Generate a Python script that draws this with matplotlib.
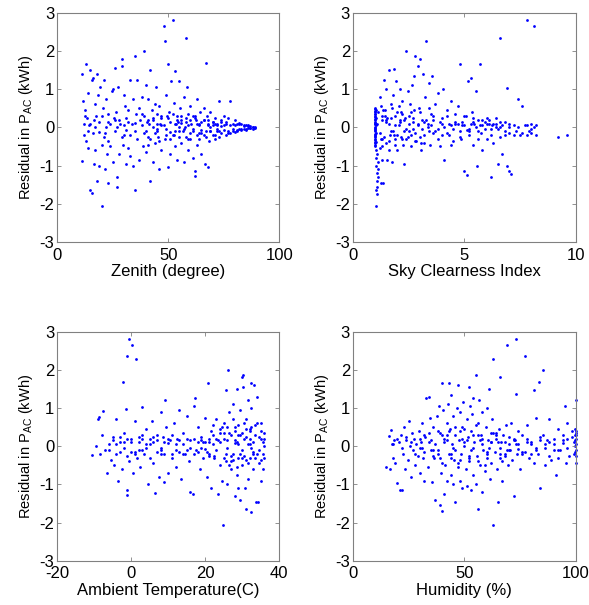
import matplotlib
matplotlib.use("Agg")
import matplotlib.pyplot as plt

# --------------------------------------------------
# Data
# --------------------------------------------------

zenith_x = [
    11, 11, 11.5, 12, 12, 12.5, 13, 13, 13.5, 14,
    14, 14.5, 15, 15, 15.5, 15.5, 16, 16, 16.5, 17,
    17, 17.5, 18, 18, 18.5, 19, 19, 19.5, 20, 20,
    20.5, 21, 21, 21.5, 22, 22, 22.5, 23, 23, 24,
    24, 24.5, 25, 25, 26, 26, 26.5, 27, 27, 27.5,
    28, 28, 29, 29, 29.5, 30, 30, 30.5, 31, 31,
    32, 32, 33, 33, 33.5, 34, 34, 35, 35, 35.5,
    36, 36, 37, 37, 38, 38, 38.5, 39, 39, 40,
    40, 40.5, 41, 41, 42, 42, 42.5, 43, 43, 44,
    44, 44.5, 45, 45, 46, 46, 46.5, 47, 47, 48,
    48.5, 48.5, 49, 49, 50, 50, 50.5, 51, 51, 51.5,
    52, 52, 52.5, 53, 53, 53.5, 54, 54, 55, 55,
    55.5, 56, 56, 57, 57, 57.5, 58, 58, 58.5, 59,
    59, 60, 60, 60.5, 61, 61, 62, 62, 62.5, 63,
    63, 64, 64, 64.5, 65, 65, 66, 66, 66.5, 67,
    67, 67.5, 68, 68, 68.5, 69, 69, 70, 70, 71,
    71, 72, 72, 73, 73, 74, 74, 75, 75, 76,
    76, 77, 77, 78, 78, 79, 79, 80, 80, 81,
    81, 82, 82, 83, 83, 84, 84, 85, 85, 86,
    86, 87, 87, 88, 88, 89, 89, 30, 45, 55,
    15, 19, 23, 27, 31, 35, 39, 43, 47, 51,
    53, 56, 59, 61, 63, 65, 68, 70, 72, 74,
    12.5, 16.5, 21.5, 25.5, 28.5, 33, 37.5, 41.5, 45.5, 49.5,
    52.5, 54.5, 56.5, 58, 60, 62, 64, 66, 69, 71,
    40, 41, 42, 43, 44, 45, 46, 47, 48, 49,
    50, 51, 52, 53, 54, 55, 56, 57, 58, 59,
    60, 61, 62, 63, 64, 65, 66, 67, 68, 69,
    70, 71, 72, 73, 74, 75, 76, 77, 78, 79,
    80, 81, 82, 83, 84, 85, 86, 87, 88, 88.5,
    14, 17, 20, 23, 26, 29, 32, 35, 38, 41,
]
zenith_res = [
    1.4, -0.88, 0.7, 0.1, -0.2, 0.45, 1.65, -0.35, 0.25, -0.55,
    0.9, 0.05, 1.5, -1.65, -1.72, 1.25, 1.3, -0.15, -0.95, 0.6,
    -0.6, 0.3, 1.4, -1.4, 0.85, -1.0, 0.15, 1.05, -2.05, -0.45,
    0.5, 1.25, -0.25, -1.1, 0.0, 0.75, -0.7, 0.35, -1.45, 0.1,
    -0.5, 0.95, 1.0, -0.9, 1.55, -0.1, 0.4, -1.55, -1.3, 1.05,
    0.2, -0.7, 1.8, 1.6, -0.45, 0.85, -0.2, 0.55, -0.95, 0.25,
    -0.55, 0.45, 1.25, -0.75, 0.1, 0.75, -1.0, 1.87, -1.65, 0.35,
    -0.3, 1.25, 0.5, -0.85, 0.05, 0.8, -0.5, 2.0, 0.3, -0.65,
    1.1, 0.15, -0.25, 0.75, 1.5, -1.4, 0.45, -0.9, 0.0, 0.6,
    -0.4, 1.05, -0.1, 0.35, -1.1, 0.55, 0.1, -0.6, 0.25, 2.65,
    2.27, -0.3, 0.85, -0.05, 1.65, -1.05, 0.4, 0.15, -0.7, 1.2,
    2.8, -0.2, 0.65, 1.47, -0.5, 0.1, -0.85, 0.3, 1.2, -0.1,
    0.5, -0.4, 0.2, -0.9, 0.8, 0.0, 2.35, -0.25, 1.05, 0.35,
    -0.6, 0.55, -0.15, 0.1, -0.8, 0.3, -1.28, -1.15, 0.2, -0.45,
    0.75, -0.3, 0.05, 0.4, -0.7, 0.15, -0.2, 0.5, -0.95, 1.68,
    -0.1, 0.3, -1.05, 0.2, -0.35, 0.0, 0.4, -0.2, 0.15, -0.3,
    0.25, -0.1, 0.1, 0.7, -0.25, 0.2, -0.15, 0.05, 0.3, -0.2,
    0.15, -0.1, 0.25, 0.7, -0.15, 0.1, -0.05, 0.2, -0.12, 0.08,
    -0.1, 0.12, -0.05, 0.1, -0.08, 0.06, -0.04, 0.07, -0.06, 0.04,
    -0.03, 0.03, -0.02, 0.02, -0.04, 0.0, -0.01, 0.05, -0.05, 0.02,
    0.08, -0.12, 0.15, 0.02, -0.08, 0.12, -0.15, 0.18, 0.06, -0.12,
    0.08, 0.12, 0.05, -0.05, 0.1, -0.08, 0.05, 0.06, -0.05, 0.03,
    0.3, 0.2, -0.15, 0.25, 0.1, -0.2, 0.2, 0.1, -0.25, 0.3,
    -0.2, 0.15, -0.1, 0.25, -0.3, 0.3, -0.15, 0.2, -0.1, 0.1,
    -0.1, 0.2, -0.3, 0.25, -0.15, 0.1, -0.35, 0.3, 0.05, -0.2,
    0.25, -0.3, 0.35, -0.1, 0.2, -0.25, 0.3, -0.05, 0.15, -0.3,
    0.2, -0.1, 0.25, -0.2, 0.1, -0.15, 0.2, -0.25, 0.1, -0.1,
    0.15, -0.2, 0.05, -0.1, 0.15, -0.08, 0.1, -0.15, 0.05, -0.1,
    0.05, -0.06, 0.08, -0.04, 0.03, -0.05, 0.05, -0.03, 0.01, -0.02,
    -0.1, 0.0, 0.3, -0.35, 0.2, -0.25, 0.15, -0.1, 0.35, -0.45,
]

clearness_x = [
    1.0, 1.0, 1.0, 1.0, 1.0, 1.0, 1.0, 1.0, 1.0, 1.0,
    1.02, 1.02, 1.02, 1.02, 1.02, 0.98, 0.98, 0.98, 0.98, 0.98,
    1.05, 1.05, 1.05, 1.05, 1.08, 1.08, 1.1, 1.1, 1.12, 1.15,
    1.05, 1.1, 1.15, 1.2, 1.25, 1.3, 1.2, 1.25, 1.3, 1.35,
    1.4, 1.45, 1.5, 1.5, 1.55, 1.6, 1.6, 1.65, 1.7, 1.75,
    1.8, 1.85, 1.9, 1.95, 2.0, 2.0, 2.05, 2.1, 2.15, 2.2,
    2.25, 2.3, 2.35, 2.4, 2.45, 2.5, 2.55, 2.6, 2.65, 2.7,
    2.75, 2.8, 2.85, 2.9, 2.95, 3.0, 3.05, 3.1, 3.15, 3.2,
    3.25, 3.3, 3.35, 3.4, 3.45, 3.5, 3.55, 3.6, 3.7, 3.8,
    3.9, 4.0, 4.05, 4.1, 4.2, 4.3, 4.4, 4.5, 4.6, 4.7,
    4.8, 4.85, 4.9, 5.0, 5.05, 5.1, 5.15, 5.2, 5.3, 5.35,
    5.4, 5.45, 5.5, 5.55, 5.6, 5.7, 5.75, 5.8, 5.9, 6.0,
    6.1, 6.2, 6.25, 6.3, 6.4, 6.5, 6.6, 6.6, 6.7, 6.8,
    6.9, 6.9, 7.0, 7.0, 7.1, 7.2, 7.3, 7.4, 7.5, 7.6,
    7.7, 7.8, 7.8, 7.9, 8.0, 8.0, 8.1, 8.1, 8.2, 8.2,
    9.2, 9.6, 1.3, 1.5, 1.7, 1.9, 2.1, 2.3, 2.5, 2.7,
    2.9, 3.1, 3.3, 3.5, 3.7, 3.9, 4.1, 4.3, 4.5, 4.7,
    4.9, 5.1, 5.3, 5.5, 5.7, 5.9, 6.1, 6.3, 6.5, 6.7,
    1.3, 1.45, 1.6, 1.75, 1.9, 2.05, 2.2, 2.4, 2.6, 2.8,
    3.0, 3.2, 3.4, 3.6, 3.8, 4.0, 4.2, 4.4, 4.6, 4.8,
    5.0, 5.2, 5.4, 5.6, 5.8, 6.0, 6.2, 6.4, 6.6, 6.8,
    7.0, 7.2, 7.4, 7.6, 7.8, 8.0, 1.0, 1.0, 1.0, 1.0,
    1.0, 1.0, 1.0, 1.0, 1.0, 1.01, 1.01, 1.01, 1.01, 1.01,
    1.1, 1.2, 1.3, 1.4, 1.5, 1.6, 1.7, 1.8, 1.9, 2.0,
    2.1, 2.2, 2.3, 2.4, 2.5, 2.6, 2.7, 2.8, 2.9, 3.0,
    3.2, 3.4, 3.6, 3.8, 4.0, 4.2, 4.4, 4.6, 4.8, 5.0,
    5.2, 5.4, 5.6, 5.8, 6.0, 6.2, 6.4, 6.6, 6.8, 7.0,
    1.15, 1.25, 1.35, 1.55, 1.85, 2.15, 2.45, 2.75, 3.05, 3.35,
]
clearness_res = [
    0.48, 0.4, 0.3, 0.2, 0.1, 0.0, -0.1, -0.2, -0.3, -0.45,
    0.45, 0.25, 0.05, -0.15, -0.38, 0.35, 0.15, -0.05, -0.25, -0.5,
    -0.6, -0.8, -1.0, -1.65, -1.2, -0.7, -1.4, -1.75, -0.9, -1.3,
    -2.05, -1.55, -1.1, -0.55, -1.45, -0.85, 0.8, 0.55, -0.3, -1.45,
    1.25, 0.3, -0.4, 1.0, -0.85, 1.5, 0.1, -0.2, 0.6, -0.9,
    0.85, 1.53, -0.3, 1.2, 0.4, -0.6, 0.05, 1.0, -0.25, 0.7,
    -0.45, -0.97, 0.25, 2.0, 0.95, -0.1, 0.6, -0.5, 1.1, 0.15,
    1.35, 1.87, -0.35, 1.6, 0.5, 1.8, -0.6, 0.2, 1.4, -0.2,
    0.8, 2.27, 0.0, 1.15, -0.45, 0.35, 1.35, -0.15, 0.6, 0.9,
    -0.5, 0.25, 1.0, -0.85, 0.45, -0.2, 0.7, -0.35, 0.1, 0.55,
    1.65, -0.3, 0.15, -1.15, 0.3, -1.25, 1.22, -0.1, 1.3, 0.4,
    -0.45, 0.1, 0.95, -1.0, 0.2, 1.67, -0.15, -0.6, 0.15, -0.3,
    0.2, -1.3, 0.05, -0.4, 0.25, -0.95, 2.35, 0.0, -0.7, 0.15,
    1.03, -1.0, -0.15, -1.15, -1.22, 0.05, -0.1, 0.75, -0.2, 0.55,
    0.05, 2.8, -0.2, -0.1, 0.1, -0.15, 2.65, 0.0, 0.05, -0.2,
    -0.25, -0.2, 0.2, 0.15, -0.1, 0.05, 0.2, -0.1, 0.1, -0.05,
    0.1, -0.05, 0.2, 0.05, -0.1, 0.15, 0.0, 0.1, -0.05, 0.08,
    0.05, -0.08, 0.1, 0.0, 0.05, -0.05, 0.08, 0.1, -0.05, 0.05,
    -0.5, 0.45, -0.6, 0.5, -0.45, 0.55, 0.35, -0.3, 0.4, -0.35,
    0.4, -0.4, 0.5, 0.3, -0.3, -0.2, 0.3, -0.45, 0.35, -0.25,
    0.3, -0.2, 0.25, -0.3, 0.2, 0.25, -0.2, 0.1, -0.25, -0.2,
    0.1, -0.2, 0.0, -0.15, 0.05, -0.05, 0.42, 0.12, -0.08, -0.38,
    0.35, 0.22, 0.08, -0.18, -0.42, 0.5, 0.28, -0.02, -0.22, -0.32,
    0.1, -0.15, 0.3, -0.25, 0.2, -0.35, 0.25, -0.1, 0.3, -0.2,
    0.15, -0.3, 0.2, -0.05, 0.3, -0.2, 0.25, -0.15, 0.05, -0.25,
    0.15, -0.1, 0.2, -0.05, 0.1, -0.15, 0.05, 0.15, -0.1, 0.05,
    -0.05, 0.15, -0.1, 0.05, 0.1, -0.05, 0.0, 0.15, -0.1, 0.0,
    0.4, -0.3, 0.45, 0.25, -0.2, 0.4, -0.25, 0.45, -0.4, 0.1,
]

temp_x = [
    -10.5, -9.5, -9.0, -8.7, -8.3, -8.0, -7.6, -7.0, -6.5, -6.0,
    -5.5, -5.0, -4.5, -4.0, -3.5, -3.0, -2.5, -2.2, -2.0, -1.5,
    -1.2, -1.2, -1.0, -0.5, -0.5, 0.0, 0.3, 0.5, 1.0, 1.3,
    1.5, 2.0, 2.5, 3.0, 3.0, 3.5, 4.0, 4.5, 5.0, 5.5,
    6.0, 6.5, 7.0, 7.5, 8.0, 8.0, 8.5, 9.0, 9.2, 9.5,
    10.0, 10.5, 11.0, 11.5, 12.0, 12.5, 13.0, 13.5, 14.0, 14.5,
    15.0, 15.5, 16.0, 16.6, 17.0, 17.3, 17.5, 18.0, 18.5, 19.0,
    19.5, 20.0, 20.5, 20.8, 21.0, 21.5, 22.0, 22.5, 23.0, 23.5,
    24.0, 24.5, 24.7, 25.0, 25.5, 25.5, 26.0, 26.2, 26.5, 27.0,
    27.5, 27.5, 28.0, 28.0, 28.5, 28.5, 29.0, 29.0, 29.5, 29.5,
    30.0, 30.0, 30.1, 30.3, 30.5, 30.8, 31.0, 31.0, 31.5, 31.5,
    32.0, 32.0, 32.3, 32.5, 32.5, 33.0, 33.2, 33.5, 33.8, 34.2,
    34.0, 34.5, 34.5, 35.0, 35.0, 35.5, 35.5, 36.0, 36.0, 35.8,
    -6, -4, -2, 0, 2, 4, 6, 8, 10, 12,
    14, 16, 18, 20, 22, 24, 26, 28, 30, 32,
    -3, -1, 1, 3, 5, 7, 9, 11, 13, 15,
    17, 19, 21, 23, 25, 27, 29, 31, 33, 35,
    24, 25, 26, 27, 28, 29, 30, 31, 32, 33,
    34, 35, 26.5, 27.5, 28.5, 29.5, 30.5, 31.5, 32.5, 33.5,
    20, 21, 22, 23, 24, 25, 26, 27, 28, 29,
    30, 31, 32, 33, 34, 35, 36, 20.5, 21.5, 22.5,
    23.5, 24.5, 25.5, 26.5, 27.5, 28.5, 29.5, 30.5, 31.5, 32.5,
    33.5, 34.5, 35.5, -5, -3, -1, 1, 3, 5, 7,
    9, 11, 13, 15, 17, 19, -4, -2, 0, 2,
    4, 6, 8, 10, 12, 14, 16, 18, 19.5, 21,
]
temp_res = [
    -0.22, 0.0, 0.7, 0.77, -0.2, 0.3, 0.93, -0.1, -0.7, 0.05,
    -0.35, 0.25, -0.5, 0.7, -0.9, 0.1, -0.6, 1.68, 0.35, 0.97,
    2.35, -1.27, -1.15, 2.8, -0.4, 0.2, 2.65, -0.7, 0.65, 2.27,
    -0.3, 0.1, -0.55, 1.02, 0.3, -0.2, 0.45, -1.0, 0.05, 0.65,
    -0.45, -1.22, 0.3, -0.8, 0.9, -0.1, 0.25, -0.95, 1.2, 0.5,
    -0.7, 0.15, -0.3, 0.6, -0.55, 0.2, 0.95, -0.85, 0.35, -0.2,
    0.8, -0.4, -1.2, -1.25, 1.05, 1.25, -0.1, 0.5, -0.6, 0.25,
    -0.3, 0.75, -0.8, 1.65, 0.1, -1.1, 0.55, -0.25, 0.7, -1.25,
    0.35, -0.9, -2.05, 0.6, 1.47, -0.4, -1.0, 2.0, 0.9, -0.6,
    1.1, -0.2, -1.3, 0.5, 1.5, -0.75, 0.3, -1.1, -1.4, 0.95,
    1.8, -0.5, 1.87, 1.55, 0.2, -1.1, -1.65, 0.7, 1.2, -0.85,
    0.4, -0.3, 1.65, -1.72, 1.0, -0.6, 1.6, 0.55, -1.45, -1.45,
    1.3, 0.25, -0.45, 0.6, -0.9, 0.1, -0.6, 0.0, -0.3, 0.35,
    -0.1, 0.05, -0.05, 0.1, -0.1, 0.05, 0.1, -0.05, 0.08, -0.1,
    0.05, -0.05, 0.1, -0.08, 0.05, 0.1, -0.05, 0.08, -0.1, 0.05,
    0.25, -0.25, -0.15, 0.2, -0.3, 0.15, -0.2, 0.3, -0.15, 0.2,
    -0.2, 0.15, -0.25, 0.2, -0.3, 0.3, -0.3, 0.25, -0.2, 0.2,
    0.45, 0.2, 0.5, -0.4, 0.15, 0.55, 0.35, -0.35, 0.45, 0.1,
    -0.2, 0.4, -0.5, 0.7, -0.55, -0.2, 0.6, -0.45, -0.05, -0.3,
    0.1, -0.2, 0.3, -0.1, -0.5, 0.35, 0.15, -0.25, 0.4, 0.05,
    -0.3, 0.45, 0.2, -0.15, 0.6, -0.35, 0.2, -0.15, 0.4, -0.3,
    0.15, 0.5, -0.2, 0.35, -0.35, 0.1, 0.3, -0.25, 0.05, 0.5,
    0.3, -0.1, -0.2, 0.15, -0.15, 0.2, -0.2, -0.1, 0.2, -0.15,
    0.1, -0.2, 0.15, -0.1, 0.2, -0.05, -0.2, 0.1, -0.15, 0.25,
    -0.05, 0.25, -0.2, 0.2, 0.05, -0.2, 0.15, -0.15, 0.1, 0.2,
]

humidity_x = [
    15, 16, 16.5, 17, 17.5, 18, 18.5, 19, 20, 20.5,
    21, 21.5, 22, 22.5, 23, 23.5, 24, 24.5, 25, 25.5,
    26, 26.5, 27, 27.5, 28, 28.5, 29, 29.5, 30, 30.5,
    31, 31.5, 32, 32.5, 33, 33.5, 34, 34.5, 35, 35.5,
    36, 36.5, 37, 37.5, 38, 38.5, 39, 39, 39.5, 40,
    40, 40.5, 41, 41, 41.5, 42, 42, 42.5, 43, 43,
    43.5, 44, 44, 44.5, 45, 45, 45.5, 46, 46, 46.5,
    47, 47, 47.5, 48, 48, 48.5, 49, 49, 49.5, 50,
    50.5, 51, 51, 51.5, 52, 52, 52.5, 53, 53, 53.5,
    54, 54, 54.5, 55, 55, 55.5, 56, 56, 56.5, 57,
    57.5, 58, 58, 58.5, 59, 59.5, 60, 60, 60.5, 61,
    61.5, 62, 62, 62.5, 63, 63, 63.5, 64, 64.5, 65,
    65.5, 66, 66, 66.5, 67, 67.5, 68, 68.5, 69, 69.5,
    70, 70.5, 71, 71.5, 72, 72.5, 73, 73, 73.5, 74,
    75, 76, 77, 77, 78, 79, 80, 81, 81, 82,
    83, 83.5, 84, 85, 85, 86, 87, 88, 89, 90,
    91, 92, 93, 94, 95, 95.5, 96, 97, 98, 99,
    99.5, 99.5, 99.5, 99.5, 99.5, 100, 100, 100, 100, 100,
    18, 22, 26, 30, 34, 38, 42, 46, 50, 54,
    58, 62, 66, 70, 74, 78, 82, 86, 90, 94,
    20, 24, 28, 32, 36, 40, 44, 48, 52, 56,
    60, 64, 68, 72, 76, 80, 84, 88, 92, 96,
    30, 32, 34, 36, 38, 40, 42, 44, 46, 48,
    50, 52, 54, 56, 58, 60, 62, 64, 66, 68,
    70, 72, 74, 76, 78, 80, 82, 84, 86, 88,
    90, 92, 94, 96, 98, 99, 100, 100, 100, 100,
    31, 35, 39, 43, 47, 51, 55, 59, 63, 67,
    37, 41, 45, 49, 53, 57, 61, 65, 69, 73,
]
humidity_res = [
    -0.55, 0.27, -0.6, 0.43, 0.05, -0.3, 0.15, -0.45, -0.97, 0.1,
    -1.15, 0.3, -1.15, -0.2, 0.5, -0.6, 0.15, -0.35, 0.65, 0.0,
    -0.8, 0.35, -0.1, 0.2, -0.5, 0.05, -0.25, 0.4, -0.7, 0.1,
    0.6, -0.3, -0.9, 0.25, 1.25, -0.55, 1.3, 0.75, -0.1, -0.95,
    0.5, -0.3, -1.4, 0.8, -0.2, 1.05, -1.55, 0.35, -0.7, 1.65,
    -1.7, 0.95, -1.25, 0.2, -0.5, 0.6, -0.9, 1.1, 1.65, -0.2,
    0.45, -0.75, 1.35, 0.05, -1.0, 0.8, -0.35, -1.45, 0.3, 1.0,
    1.6, -0.55, 0.15, -0.9, 0.9, -0.2, 0.5, -1.1, 1.15, 0.0,
    -0.6, 0.7, -1.05, 0.25, 1.55, -0.4, 1.05, -1.15, 0.4, 0.85,
    -0.75, 1.25, 0.1, 1.87, -1.0, -0.25, -1.65, 0.6, 1.2, -0.5,
    0.3, -1.2, 0.9, -0.1, -0.65, 0.5, 1.0, -0.3, 0.15, 1.5,
    -0.85, 0.35, -0.45, 0.7, 2.27, -2.05, -0.15, 0.2, -0.6, -1.45,
    0.45, 1.8, -0.3, 0.1, -0.9, 0.3, -0.2, 0.55, 2.65, -0.5,
    0.25, -0.1, 0.6, -0.35, -1.3, 0.15, 2.8, 1.37, -0.2, 0.4,
    -0.6, 0.3, 2.35, -0.15, 0.55, -0.3, 0.1, 1.47, -0.45, 0.75,
    -0.2, 1.67, -1.1, 2.0, 0.3, -0.5, 0.15, 0.7, -0.35, 0.2,
    -0.75, 0.45, -0.1, 0.3, 1.05, -0.45, 0.6, -0.25, 0.4, 0.1,
    0.45, 0.3, 0.15, 0.0, -0.15, 1.2, 0.4, 0.2, -0.1, -0.45,
    0.05, -0.05, 0.1, -0.05, 0.1, -0.1, 0.15, -0.1, 0.1, -0.05,
    0.05, 0.1, -0.05, 0.05, -0.08, 0.1, -0.05, 0.05, -0.1, 0.08,
    0.2, 0.25, -0.2, 0.3, -0.25, 0.3, -0.3, 0.4, -0.3, 0.3,
    -0.2, 0.3, -0.25, 0.2, -0.2, -0.2, 0.25, -0.25, -0.3, 0.2,
    0.2, -0.15, 0.35, -0.1, 0.4, -0.45, 0.3, -0.2, 0.5, -0.35,
    0.45, -0.25, 0.3, -0.4, 0.2, -0.15, 0.1, 0.35, -0.2, 0.1,
    -0.1, 0.15, 0.05, -0.15, 0.2, 0.05, -0.1, 0.15, -0.05, 0.1,
    0.05, -0.1, 0.15, -0.05, 0.25, -0.2, 0.35, 0.05, -0.25, 0.3,
    -0.05, 0.15, -0.3, 0.4, -0.45, 0.15, 0.55, -0.5, 0.35, -0.4,
    0.05, 0.1, -0.05, 0.2, -0.1, 0.15, -0.05, 0.1, -0.1, 0.05,
]

ylabel = r"Residual in P$_{\mathregular{AC}}$ (kWh)"

panels = [
    (zenith_x, zenith_res, "Zenith (degree)", (0, 100), [0, 50, 100]),
    (clearness_x, clearness_res, "Sky Clearness Index", (0, 10), [0, 5, 10]),
    (temp_x, temp_res, "Ambient Temperature(C)", (-20, 40), [-20, 0, 20, 40]),
    (humidity_x, humidity_res, "Humidity (%)", (0, 100), [0, 50, 100]),
]

# axes rectangles in figure fractions (left, bottom, width, height)
rects = [
    (0.097, 0.600, 0.377, 0.379),
    (0.599, 0.600, 0.379, 0.379),
    (0.097, 0.073, 0.377, 0.379),
    (0.599, 0.073, 0.379, 0.379),
]

plt.rcParams["font.family"] = ["Liberation Sans", "DejaVu Sans"]
plt.rcParams["mathtext.fontset"] = "custom"
plt.rcParams["mathtext.rm"] = "Liberation Sans"
plt.rcParams["axes.unicode_minus"] = False

fig = plt.figure(figsize=(5.89, 6.05), dpi=100)

for (xs, ys, xlabel, xlim, xticks), rect in zip(panels, rects):
    ax = fig.add_axes(rect)
    ax.scatter(xs, ys, s=4, c="#0000ff", marker="o", linewidths=0, clip_on=False)
    ax.set_xlim(*xlim)
    ax.set_ylim(-3, 3)
    ax.set_xticks(xticks)
    ax.set_yticks([-3, -2, -1, 0, 1, 2, 3])
    ax.tick_params(direction="in", length=3, width=0.6, color="#808080",
                   top=True, right=True, labelsize=12)
    ax.tick_params(axis="x", pad=4)
    ax.tick_params(axis="y", pad=2)
    for sp in ax.spines.values():
        sp.set_color("#808080")
        sp.set_linewidth(0.8)
    ax.set_xlabel(xlabel, fontsize=12, labelpad=1)
    ax.set_ylabel(ylabel, fontsize=10.5, labelpad=3)

fig.savefig("out.png", dpi=100)
